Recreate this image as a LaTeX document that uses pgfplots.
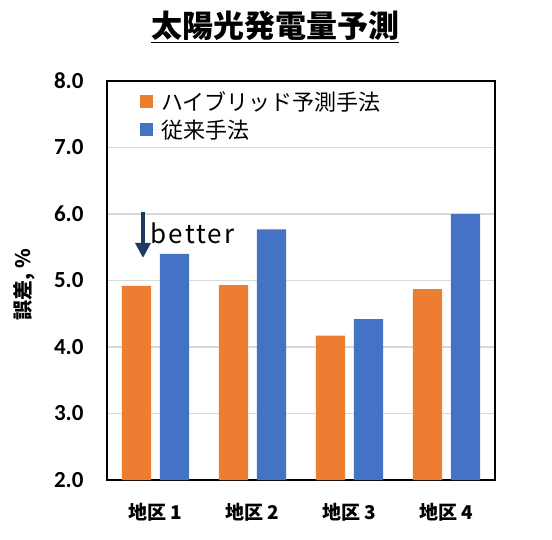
\documentclass[border=0pt]{standalone}
\usepackage{fontspec}
\setmainfont{Noto Sans CJK JP}
\newfontfamily\numfont{Carlito}
\usepackage{pgfplots}
\pgfplotsset{compat=1.18}
\usetikzlibrary{arrows.meta}

\definecolor{xlorange}{HTML}{ED7D31}
\definecolor{xlblue}{HTML}{4472C4}
\definecolor{gridgray}{HTML}{D9D9D9}
\definecolor{navy}{HTML}{203864}

\begin{document}
\begin{tikzpicture}
% page size = reference size, 1px = 1pt
\path[use as bounding box] (-107pt,-59pt) rectangle (445pt,480pt);

\begin{axis}[
  at={(0,0)}, anchor=south west,
  scale only axis, width=388pt, height=399pt,
  xmin=0.5, xmax=4.5, ymin=2, ymax=8,
  xtick={1,2,3,4},
  xticklabels={地区 1,地区 2,地区 3,地区 4},
  ytick={2,3,...,8},
  major tick length=0pt,
  ymajorgrids,
  major grid style={draw=gridgray, line width=1.5pt},
  axis line style={line width=1.5pt},
  /pgf/number format/assume math mode=true,
  /pgf/number format/fixed, /pgf/number format/fixed zerofill,
  /pgf/number format/precision=1,
  yticklabel style={font=\numfont\bfseries\fontsize{23}{23}\selectfont, xshift=-20pt},
  xticklabel style={font=\bfseries\fontsize{19}{19}\selectfont, yshift=-20pt},
  ylabel={誤差, \%},
  ylabel style={font=\bfseries\fontsize{20}{20}\selectfont,
    at={(axis description cs:-0.214,0.489)}, anchor=center},
  ybar=0pt, bar width=0.3,
  legend style={at={(0.085,0.975)}, anchor=north west, draw=none, fill=none,
    font=\fontsize{22}{22}\selectfont, row sep=8pt, inner sep=0pt,
    nodes={inner sep=0pt}, legend cell align=left},
  legend image code/.code={\fill[#1] (0pt,-6.5pt) rectangle (13pt,6.5pt);
    \path (0pt,0pt) -- (21pt,0pt);},
]
\addplot+[fill=xlorange, draw=none, bar shift=-0.196] coordinates {(1,4.92) (2,4.93) (3,4.17) (4,4.87)};
\addlegendentry{ハイブリッド予測手法}
\addplot+[fill=xlblue, draw=none, bar shift=0.196] coordinates {(1,5.40) (2,5.77) (3,4.42) (4,6.00)};
\addlegendentry{従来手法}

\draw[-{Triangle[width=15pt,length=15pt]}, line width=3.5pt, navy]
  (axis cs:0.871,6.03) -- (axis cs:0.871,5.34);
\node[anchor=west, inner sep=0pt,
  font=\fontsize{26}{26}\selectfont\addfontfeature{LetterSpace=8}]
  at (axis cs:0.95,5.71) {better};
\end{axis}

\node[font=\bfseries\fontsize{31}{31}\selectfont, anchor=center]
  at (168.5pt,453pt) {\underline{太陽光発電量予測}};
\end{tikzpicture}
\end{document}
